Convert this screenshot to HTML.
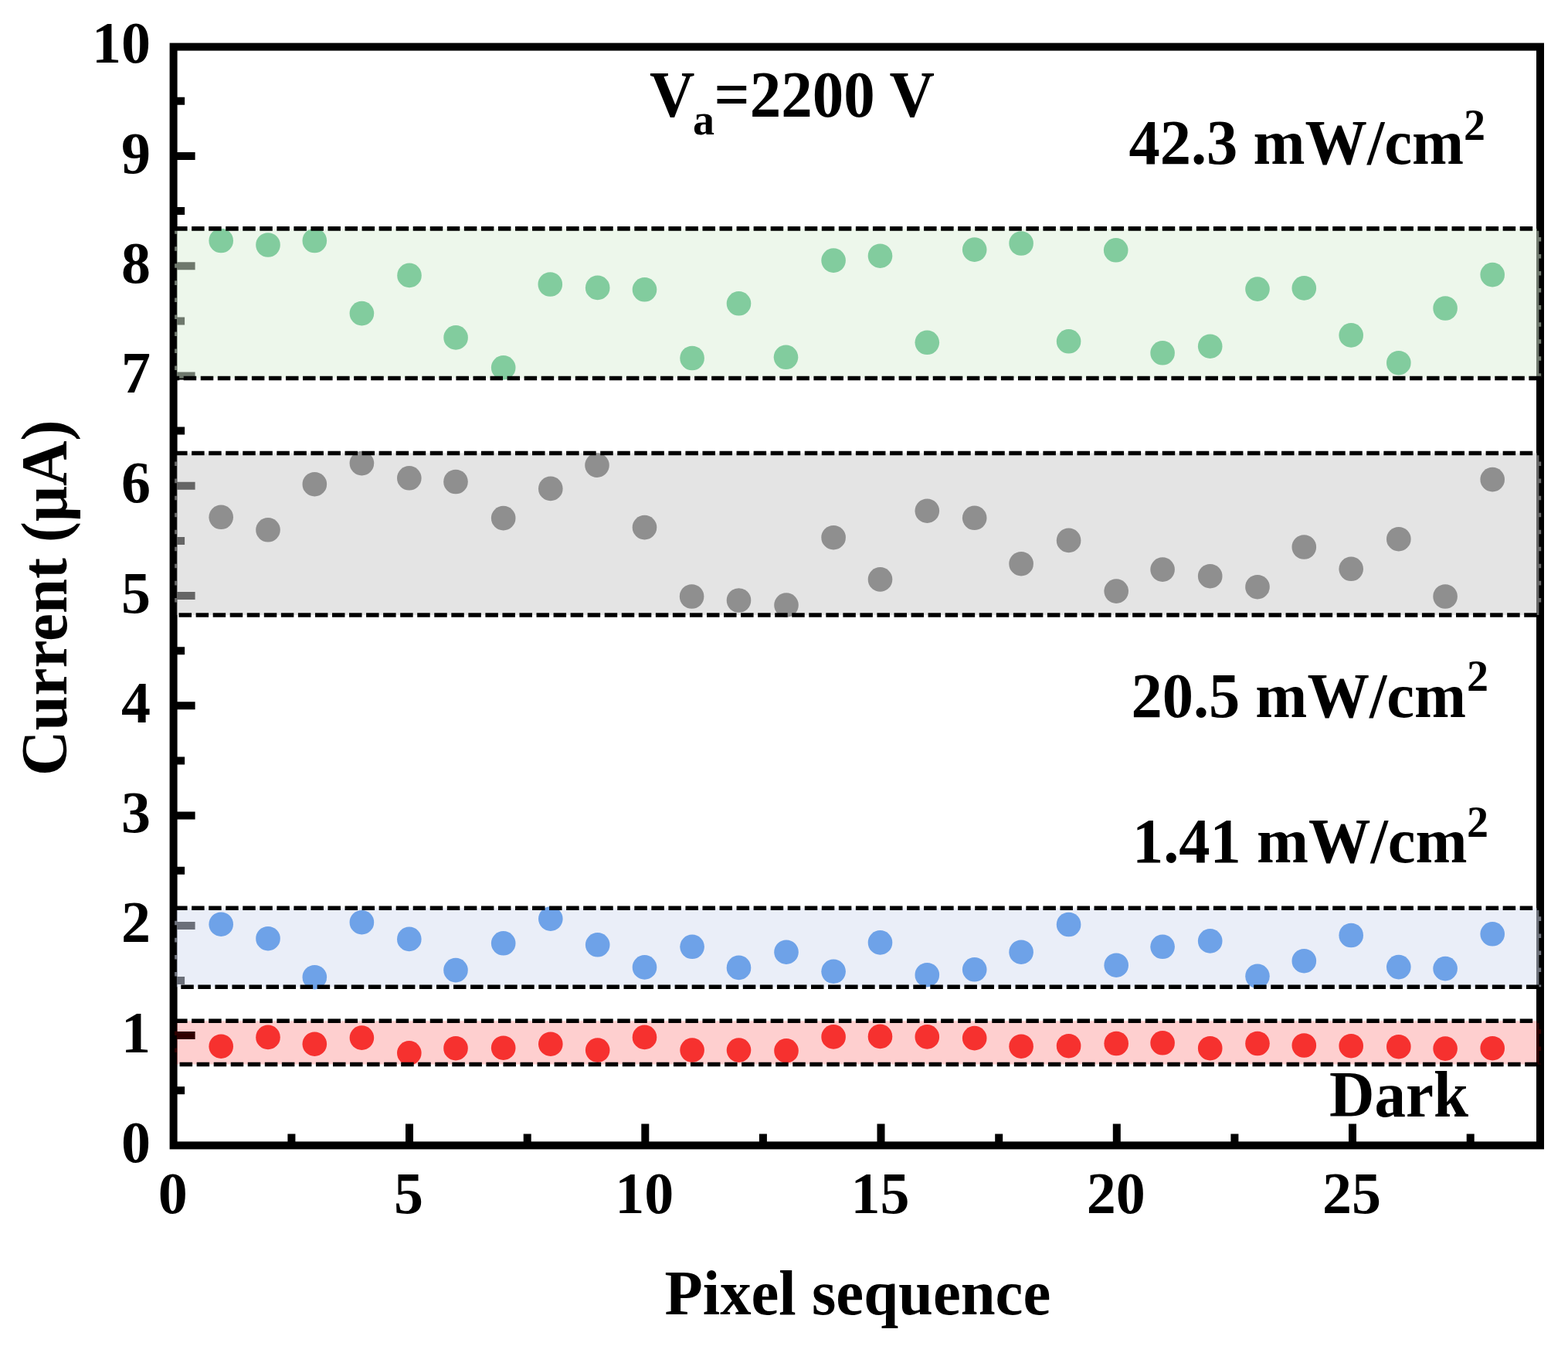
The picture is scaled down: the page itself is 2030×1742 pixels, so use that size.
<!DOCTYPE html><html><head><meta charset="utf-8"><title>Current vs Pixel sequence</title><style>html,body{margin:0;padding:0;background:#fff;width:2030px;height:1742px;overflow:hidden}svg{display:block}text{font-family:"Liberation Serif","Times New Roman",serif;font-weight:bold;fill:#000}</style></head><body>
<svg width="2030" height="1742" viewBox="0 0 2030 1742">
<rect x="0" y="0" width="2030" height="1742" fill="#fff"/>
<path d="M224.6 1411.3H239.1M224.6 1340.1H252.6M224.6 1269.0H239.1M224.6 1197.9H252.6M224.6 1126.7H239.1M224.6 1055.6H252.6M224.6 984.5H239.1M224.6 913.3H252.6M224.6 842.2H239.1M224.6 771.1H252.6M224.6 699.9H239.1M224.6 628.8H252.6M224.6 557.6H239.1M224.6 486.5H252.6M224.6 415.4H239.1M224.6 344.2H252.6M224.6 273.1H239.1M224.6 202.0H252.6M224.6 130.8H239.1M377.4 1482.4V1467.4M530.0 1482.4V1454.4M682.7 1482.4V1467.4M835.3 1482.4V1454.4M987.9 1482.4V1467.4M1140.5 1482.4V1454.4M1293.2 1482.4V1467.4M1445.8 1482.4V1454.4M1598.4 1482.4V1467.4M1751.0 1482.4V1454.4M1903.7 1482.4V1467.4" stroke="#000" stroke-width="10" fill="none"/>
<rect x="224.6" y="60.6" width="1769.4" height="1421.8" fill="none" stroke="#000" stroke-width="10"/>
<rect x="226.06" y="295.9" width="1769.14" height="193.6" fill="rgb(220,240,216)" fill-opacity="0.5"/>
<rect x="226.06" y="586.5" width="1769.14" height="209.5" fill="rgb(202,202,202)" fill-opacity="0.5"/>
<rect x="226.06" y="1175.3" width="1769.14" height="102.0" fill="rgb(213,221,241)" fill-opacity="0.5"/>
<rect x="226.06" y="1321.3" width="1769.14" height="56.2" fill="rgb(250,0,0)" fill-opacity="0.19"/>
<g fill="#82cc9e"><circle cx="286.2" cy="311.5" r="15.8"/><circle cx="347.0" cy="317.0" r="15.8"/><circle cx="407.3" cy="311.5" r="15.8"/><circle cx="468.4" cy="405.6" r="15.8"/><circle cx="530.0" cy="356.4" r="15.8"/><circle cx="590.1" cy="436.9" r="15.8"/><circle cx="651.7" cy="475.8" r="15.8"/><circle cx="712.3" cy="368.0" r="15.8"/><circle cx="773.7" cy="372.4" r="15.8"/><circle cx="834.5" cy="374.8" r="15.8"/><circle cx="896.1" cy="463.5" r="15.8"/><circle cx="956.5" cy="392.8" r="15.8"/><circle cx="1017.5" cy="462.3" r="15.8"/><circle cx="1079.1" cy="337.1" r="15.8"/><circle cx="1139.5" cy="331.2" r="15.8"/><circle cx="1200.3" cy="443.3" r="15.8"/><circle cx="1261.7" cy="323.1" r="15.8"/><circle cx="1322.1" cy="315.0" r="15.8"/><circle cx="1383.6" cy="441.8" r="15.8"/><circle cx="1444.7" cy="323.8" r="15.8"/><circle cx="1505.1" cy="456.8" r="15.8"/><circle cx="1566.7" cy="448.2" r="15.8"/><circle cx="1628.0" cy="374.1" r="15.8"/><circle cx="1688.3" cy="372.9" r="15.8"/><circle cx="1749.2" cy="433.9" r="15.8"/><circle cx="1810.8" cy="469.7" r="15.8"/><circle cx="1871.1" cy="399.0" r="15.8"/><circle cx="1932.2" cy="355.6" r="15.8"/></g>
<g fill="#8f8f8f"><circle cx="286.2" cy="669.3" r="15.8"/><circle cx="347.0" cy="685.8" r="15.8"/><circle cx="407.3" cy="626.7" r="15.8"/><circle cx="468.4" cy="599.6" r="15.8"/><circle cx="529.8" cy="618.8" r="15.8"/><circle cx="590.0" cy="623.5" r="15.8"/><circle cx="651.7" cy="670.6" r="15.8"/><circle cx="712.8" cy="632.4" r="15.8"/><circle cx="773.0" cy="602.1" r="15.8"/><circle cx="834.5" cy="682.6" r="15.8"/><circle cx="895.6" cy="772.0" r="15.8"/><circle cx="956.5" cy="777.0" r="15.8"/><circle cx="1018.0" cy="783.1" r="15.8"/><circle cx="1079.1" cy="695.7" r="15.8"/><circle cx="1139.5" cy="749.9" r="15.8"/><circle cx="1200.3" cy="661.2" r="15.8"/><circle cx="1261.7" cy="670.3" r="15.8"/><circle cx="1322.1" cy="729.7" r="15.8"/><circle cx="1383.6" cy="699.4" r="15.8"/><circle cx="1445.2" cy="765.1" r="15.8"/><circle cx="1505.1" cy="737.1" r="15.8"/><circle cx="1566.7" cy="745.7" r="15.8"/><circle cx="1628.0" cy="759.7" r="15.8"/><circle cx="1688.3" cy="708.0" r="15.8"/><circle cx="1749.2" cy="736.3" r="15.8"/><circle cx="1810.8" cy="697.7" r="15.8"/><circle cx="1871.1" cy="772.0" r="15.8"/><circle cx="1932.2" cy="620.6" r="15.8"/></g>
<g fill="#6ea2e8"><circle cx="286.2" cy="1196.2" r="15.8"/><circle cx="347.0" cy="1214.7" r="15.8"/><circle cx="407.3" cy="1264.7" r="15.8"/><circle cx="468.4" cy="1193.7" r="15.8"/><circle cx="529.8" cy="1215.4" r="15.8"/><circle cx="590.0" cy="1255.6" r="15.8"/><circle cx="651.7" cy="1220.8" r="15.8"/><circle cx="712.8" cy="1189.1" r="15.8"/><circle cx="773.7" cy="1222.8" r="15.8"/><circle cx="834.5" cy="1251.9" r="15.8"/><circle cx="896.1" cy="1225.3" r="15.8"/><circle cx="956.5" cy="1252.4" r="15.8"/><circle cx="1018.0" cy="1232.2" r="15.8"/><circle cx="1079.1" cy="1257.3" r="15.8"/><circle cx="1139.5" cy="1219.9" r="15.8"/><circle cx="1200.3" cy="1261.7" r="15.8"/><circle cx="1261.7" cy="1254.8" r="15.8"/><circle cx="1322.1" cy="1232.2" r="15.8"/><circle cx="1383.6" cy="1196.5" r="15.8"/><circle cx="1445.2" cy="1249.2" r="15.8"/><circle cx="1505.1" cy="1225.3" r="15.8"/><circle cx="1566.7" cy="1217.9" r="15.8"/><circle cx="1628.0" cy="1263.4" r="15.8"/><circle cx="1688.3" cy="1243.7" r="15.8"/><circle cx="1749.2" cy="1210.5" r="15.8"/><circle cx="1810.8" cy="1251.6" r="15.8"/><circle cx="1871.1" cy="1253.6" r="15.8"/><circle cx="1932.2" cy="1208.8" r="15.8"/></g>
<g fill="#f6312f"><circle cx="286.2" cy="1354.2" r="15.8"/><circle cx="347.0" cy="1342.4" r="15.8"/><circle cx="407.3" cy="1351.2" r="15.8"/><circle cx="468.4" cy="1343.1" r="15.8"/><circle cx="529.8" cy="1362.8" r="15.8"/><circle cx="590.0" cy="1356.7" r="15.8"/><circle cx="651.7" cy="1356.2" r="15.8"/><circle cx="712.8" cy="1351.2" r="15.8"/><circle cx="773.7" cy="1359.1" r="15.8"/><circle cx="834.5" cy="1342.4" r="15.8"/><circle cx="896.1" cy="1359.1" r="15.8"/><circle cx="956.5" cy="1359.1" r="15.8"/><circle cx="1018.0" cy="1359.9" r="15.8"/><circle cx="1079.1" cy="1341.9" r="15.8"/><circle cx="1139.5" cy="1341.4" r="15.8"/><circle cx="1200.3" cy="1341.9" r="15.8"/><circle cx="1261.7" cy="1343.6" r="15.8"/><circle cx="1322.1" cy="1354.2" r="15.8"/><circle cx="1383.6" cy="1353.7" r="15.8"/><circle cx="1445.2" cy="1350.5" r="15.8"/><circle cx="1505.1" cy="1349.8" r="15.8"/><circle cx="1566.7" cy="1356.7" r="15.8"/><circle cx="1628.0" cy="1350.5" r="15.8"/><circle cx="1688.3" cy="1353.0" r="15.8"/><circle cx="1749.2" cy="1353.7" r="15.8"/><circle cx="1810.8" cy="1354.7" r="15.8"/><circle cx="1871.1" cy="1357.1" r="15.8"/><circle cx="1932.2" cy="1356.7" r="15.8"/></g>
<rect x="226.06" y="295.9" width="1769.14" height="193.6" fill="none" stroke="#000" stroke-width="5.6" stroke-dasharray="16.5 5.546"/>
<rect x="226.06" y="586.5" width="1769.14" height="209.5" fill="none" stroke="#000" stroke-width="5.6" stroke-dasharray="16.5 5.546"/>
<rect x="226.06" y="1175.3" width="1769.14" height="102.0" fill="none" stroke="#000" stroke-width="5.6" stroke-dasharray="16.5 5.546"/>
<rect x="226.06" y="1321.3" width="1769.14" height="56.2" fill="none" stroke="#000" stroke-width="5.6" stroke-dasharray="16.5 5.546"/>
<text x="195" y="1503.9" font-size="76" text-anchor="end">0</text>
<text x="195" y="1361.6" font-size="76" text-anchor="end">1</text>
<text x="195" y="1219.4" font-size="76" text-anchor="end">2</text>
<text x="195" y="1077.1" font-size="76" text-anchor="end">3</text>
<text x="195" y="934.8" font-size="76" text-anchor="end">4</text>
<text x="195" y="792.6" font-size="76" text-anchor="end">5</text>
<text x="195" y="650.3" font-size="76" text-anchor="end">6</text>
<text x="195" y="508.0" font-size="76" text-anchor="end">7</text>
<text x="195" y="365.7" font-size="76" text-anchor="end">8</text>
<text x="195" y="223.5" font-size="76" text-anchor="end">9</text>
<text x="195" y="81.2" font-size="76" text-anchor="end">10</text>
<text x="223.8" y="1570" font-size="76" text-anchor="middle">0</text>
<text x="529.0" y="1570" font-size="76" text-anchor="middle">5</text>
<text x="834.3" y="1570" font-size="76" text-anchor="middle">10</text>
<text x="1139.5" y="1570" font-size="76" text-anchor="middle">15</text>
<text x="1444.8" y="1570" font-size="76" text-anchor="middle">20</text>
<text x="1750.0" y="1570" font-size="76" text-anchor="middle">25</text>
<text transform="translate(860.5 1700.6) scale(1 1.035)" font-size="80.7">Pixel sequence</text>
<text transform="translate(86 1004) rotate(-90) scale(1 1.035)" font-size="81">Current (μA)</text>
<text transform="translate(841 151.4) scale(1 1.035)" font-size="81">V</text>
<text transform="translate(897 173.5) scale(1 1.0)" font-size="56">a</text>
<text transform="translate(924.6 151.4) scale(1 1.035)" font-size="81">=2200 V</text>
<text transform="translate(1461.5 212.0) scale(1 1.035)" font-size="80.5">42.3 mW/cm</text>
<text transform="translate(1895 180.5) scale(1 1.0)" font-size="56">2</text>
<text transform="translate(1464.4 928.0) scale(1 1.035)" font-size="80.5">20.5 mW/cm</text>
<text transform="translate(1899 894.3) scale(1 1.0)" font-size="56">2</text>
<text transform="translate(1466 1116.4) scale(1 1.035)" font-size="80.5">1.41 mW/cm</text>
<text transform="translate(1899 1082.5) scale(1 1.0)" font-size="56">2</text>
<text transform="translate(1721 1445.3) scale(1 1.035)" font-size="81">Dark</text>
</svg></body></html>
